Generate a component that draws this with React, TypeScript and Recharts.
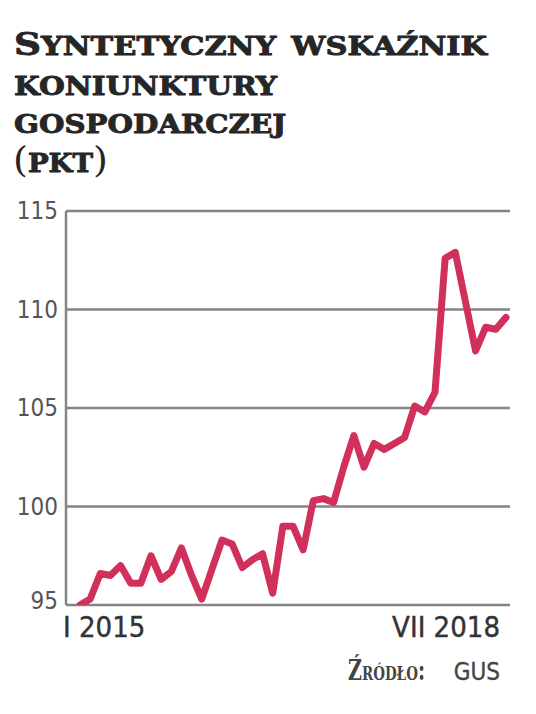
import React from 'react';
import { LineChart, Line, XAxis, YAxis, CartesianGrid } from 'recharts';

// miesiące rzymskie, od I 2015 do VII 2018
const MONTHS = ['I', 'II', 'III', 'IV', 'V', 'VI', 'VII', 'VIII', 'IX', 'X', 'XI', 'XII'];
const YEARS = [2015, 2016, 2017, 2018];
const Y_TICKS = [95, 100, 105, 110, 115];

// (pkt)
const VALUES = [
  95.0, 95.3, 96.6, 96.5, 97.0, 96.1, 96.1, 97.5, 96.3, 96.7, 97.9, 96.5,
  95.3, 96.8, 98.3, 98.1, 96.9, 97.3, 97.6, 95.6, 99.0, 99.0, 97.8, 100.3,
  100.4, 100.2, 102.0, 103.6, 102.0, 103.2, 102.9, 103.2, 103.5, 105.1, 104.8, 105.8,
  112.6, 112.9, 110.4, 107.9, 109.1, 109.0, 109.6,
];

const LABELS: string[] = [];
YEARS.forEach((y) => MONTHS.forEach((m) => LABELS.push(`${m} ${y}`)));

const data = VALUES.map((v, i) => ({ month: LABELS[i], value: v }));

const SANS = "'DejaVu Sans Condensed', 'DejaVu Sans', sans-serif";
const SERIF = "'DejaVu Serif', serif";
const RED = '#d1305a';
const GRID = '#858585';
const INK = '#262626';

const XTick = (props: any) => {
  const { x, y, index } = props;
  const last = data.length - 1;
  if (index !== 0 && index !== last) return <g />;
  return (
    <text
      x={index === 0 ? x - 17 : x - 6}
      y={y + 24}
      textAnchor={index === 0 ? 'start' : 'end'}
      fontFamily={SANS}
      fontStretch="condensed"
      fontSize={29}
      fill="#333"
      stroke="#333"
      strokeWidth={0.4}
    >
      {data[index].month}
    </text>
  );
};

const YTick = (props: any) => {
  const { x, y, payload } = props;
  return (
    <text
      x={x}
      y={y + (payload.value === 95 ? -4 : 0)}
      textAnchor="end"
      dominantBaseline="central"
      fontFamily={SANS}
      fontStretch="condensed"
      fontSize={24}
      fill="#555"
    >
      {payload.value}
    </text>
  );
};

export default function App() {
  return (
    <div style={{ position: 'absolute', left: 0, top: 0, width: 536, height: 714, background: '#fff' }}>
      <svg width={536} height={200} style={{ position: 'absolute', left: 0, top: 0 }}>
        <g
          fontFamily={SERIF}
          fontWeight="bold"
          fill={INK}
          stroke={INK}
          strokeWidth={0.9}
          style={{ fontVariant: 'small-caps' }}
        >
          <text x={14} y={55} fontSize={37} textLength={473} lengthAdjust="spacingAndGlyphs">
            <tspan fontSize={32}>S</tspan>yntetyczny wskaźnik
          </text>
          <text x={14} y={95} fontSize={37} textLength={263} lengthAdjust="spacingAndGlyphs">
            koniunktury
          </text>
          <text x={14} y={133} fontSize={37} textLength={272} lengthAdjust="spacingAndGlyphs">
            gospodarczej
          </text>
          <text x={13} y={172} fontSize={37} textLength={95} lengthAdjust="spacingAndGlyphs">
            <tspan fontSize={36} fontWeight="normal" strokeWidth={0}>(</tspan>pkt<tspan fontSize={36} fontWeight="normal" strokeWidth={0}>)</tspan>
          </text>
        </g>
      </svg>

      <div style={{ position: 'absolute', left: 0, top: 0 }}>
        <LineChart width={536} height={714} data={data} margin={{ top: 211, right: 26, bottom: 79, left: 6 }}>
          <CartesianGrid vertical={false} stroke={GRID} strokeWidth={2.5} />
          <XAxis
            dataKey="month"
            height={30}
            interval={0}
            axisLine={false}
            tickLine={false}
            padding={{ left: 14, right: 4 }}
            tick={<XTick />}
          />
          <YAxis
            width={60}
            domain={[95, 115]}
            ticks={Y_TICKS}
            allowDataOverflow
            axisLine={{ stroke: GRID, strokeWidth: 2.5 }}
            tickLine={false}
            tick={<YTick />}
          />
          <Line
            type="linear"
            dataKey="value"
            stroke={RED}
            strokeWidth={7}
            strokeLinejoin="round"
            strokeLinecap="round"
            dot={false}
            activeDot={false}
            isAnimationActive={false}
          />
        </LineChart>
      </div>

      <svg width={536} height={714} style={{ position: 'absolute', left: 0, top: 0, pointerEvents: 'none' }}>
        <text
          x={348}
          y={680}
          fontFamily={SERIF}
          fontWeight="bold"
          fontSize={27}
          fill="#444"
          textLength={77}
          lengthAdjust="spacingAndGlyphs"
          style={{ fontVariant: 'small-caps' }}
        >
          Źródło:
        </text>
        <text
          x={500}
          y={680}
          textAnchor="end"
          fontFamily={SANS}
          fontStretch="condensed"
          fontSize={24}
          fill="#444"
          stroke="#444"
          strokeWidth={0.3}
        >
          GUS
        </text>
      </svg>
    </div>
  );
}
